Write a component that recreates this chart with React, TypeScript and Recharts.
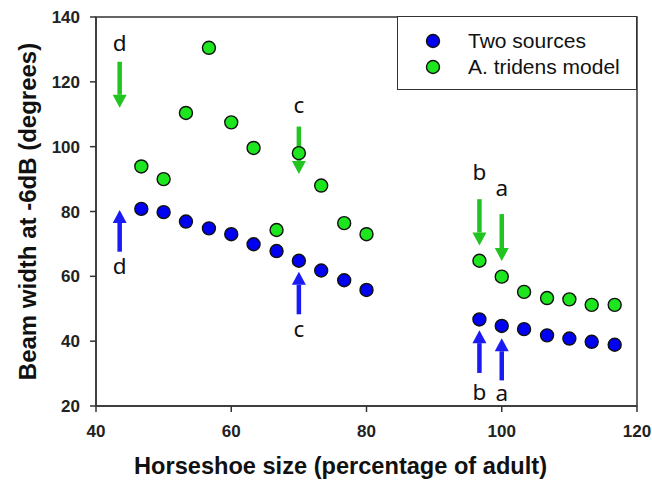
import { ReferenceArea, ReferenceLine, Scatter, ScatterChart, XAxis, YAxis } from 'recharts';

const youngSizes = [46.7, 50, 53.3, 56.7, 60, 63.3, 66.7, 70, 73.3, 76.7, 80];
const adultSizes = [96.7, 100, 103.3, 106.7, 110, 113.3, 116.7];
const twoSourcesYoung = [80.8, 79.8, 76.9, 74.8, 73.0, 69.9, 67.8, 64.8, 61.8, 58.8, 55.8];
const twoSourcesAdult = [46.7, 44.7, 43.7, 41.8, 40.8, 39.8, 38.9];
const tridensYoung = [93.9, 90.0, 110.4, 130.5, 107.5, 99.6, 74.3, 98.0, 88.0, 76.4, 73.0];
const tridensAdult = [64.8, 59.9, 55.2, 53.3, 52.9, 51.2, 51.2];

const xTicks = [40, 60, 80, 100, 120];
const yTicks = [20, 40, 60, 80, 100, 120, 140];

// arrows: x position, tail value, tip value
const greenArrows = [
  { x: 43.5, from: 126.2, to: 112 },
  { x: 70, from: 106.2, to: 91.6 },
  { x: 96.7, from: 83.8, to: 69.5 },
  { x: 100, from: 79.2, to: 64.7 },
];
const blueArrows = [
  { x: 43.5, from: 67.6, to: 80.5 },
  { x: 70, from: 48.3, to: 61.4 },
  { x: 96.7, from: 30.2, to: 43.4 },
  { x: 100, from: 27.9, to: 40.9 },
];
const letterLabels = [
  { x: 43.5, y: 132, text: 'd' },
  { x: 70, y: 113, text: 'c' },
  { x: 96.7, y: 92.3, text: 'b' },
  { x: 100, y: 87.3, text: 'a' },
  { x: 43.5, y: 63.2, text: 'd' },
  { x: 70, y: 44, text: 'c' },
  { x: 96.7, y: 24.6, text: 'b' },
  { x: 100, y: 24.3, text: 'a' },
];

const sizes = [...youngSizes, ...adultSizes];
const twoSources = [...twoSourcesYoung, ...twoSourcesAdult].map((v, i) => ({ x: sizes[i], y: v }));
const tridens = [...tridensYoung, ...tridensAdult].map((v, i) => ({ x: sizes[i], y: v }));

const BLUE = '#0000f2';
const GREEN = '#1ee61e';
const BLUE_ARROW = '#1a1af5';
const GREEN_ARROW = '#22c422';
const AXIS = '#333';
const FONT = '"Liberation Sans", Arial, sans-serif';

const dot = (fill: string) => (p: any) => (
  <circle cx={p.cx} cy={p.cy} r={6.5} fill={fill} stroke="#111" strokeWidth={1.4}/>
);

const arrow = (color: string) => (p: any) => {
  const { x1, y1, x2, y2 } = p;
  const dir = y2 > y1 ? 1 : -1;
  const head = 13;
  const half = 7;
  return (
    <g>
      <line x1={x1} y1={y1} x2={x2} y2={y2 - dir * head} stroke={color} strokeWidth={4.5}/>
      <polygon points={`${x2},${y2} ${x2 - half},${y2 - dir * head} ${x2 + half},${y2 - dir * head}`} fill={color}/>
    </g>
  );
};

const letter = (p: any) => (
  <text x={p.cx} y={p.cy} textAnchor="middle" dominantBaseline="central" fontSize={22.5} fill="#111" fontFamily='"Noto Sans", "Open Sans", sans-serif'>
    {p.payload.text}
  </text>
);

export default function App() {
  return (
    <div style={{ position: 'absolute', left: 0, top: 0, width: 652, height: 483, background: '#fff', fontFamily: FONT }}>
      <ScatterChart width={652} height={483} margin={{ top: 17, right: 15, left: 0, bottom: 47 }}>
        <XAxis type="number" dataKey="x" domain={[40, 120]} ticks={xTicks} allowDataOverflow
          stroke={AXIS} strokeWidth={1.5} tickSize={6} tickMargin={13}
          tick={{ fontSize: 17, fontWeight: 'bold', fill: '#222', fontFamily: FONT }}
          label={{ content: (props: any) => {
            const vb = props.viewBox;
            return <text x={vb.x + vb.width / 2 - 26} y={474} textAnchor="middle" fontSize={23.6} fontWeight="bold" fill="#111" fontFamily={FONT}>Horseshoe size (percentage of adult)</text>;
          } }}/>
        <YAxis type="number" dataKey="y" domain={[20, 140]} ticks={yTicks} allowDataOverflow width={96}
          stroke={AXIS} strokeWidth={1.5} tickSize={6} tickMargin={10}
          tick={{ fontSize: 17, fontWeight: 'bold', fill: '#222', fontFamily: FONT }}
          label={{ content: (props: any) => {
            const vb = props.viewBox;
            const cy = vb.y + vb.height / 2;
            return <text x={27} y={cy} transform={`rotate(-90, 27, ${cy})`} textAnchor="middle" dominantBaseline="central" fontSize={24} fontWeight="bold" fill="#111" fontFamily={FONT}>Beam width at -6dB (degrees)</text>;
          } }}/>
        <ReferenceArea x1={40} x2={120} y1={20} y2={140} fill="none" stroke={AXIS} strokeWidth={1.5}/>
        {greenArrows.map((a, i) => (
          <ReferenceLine key={`g${i}`} segment={[{ x: a.x, y: a.from }, { x: a.x, y: a.to }]} shape={arrow(GREEN_ARROW)}/>
        ))}
        {blueArrows.map((a, i) => (
          <ReferenceLine key={`b${i}`} segment={[{ x: a.x, y: a.from }, { x: a.x, y: a.to }]} shape={arrow(BLUE_ARROW)}/>
        ))}
        <Scatter name="Two sources" data={twoSources} shape={dot(BLUE)} isAnimationActive={false}/>
        <Scatter name="A. tridens model" data={tridens} shape={dot(GREEN)} isAnimationActive={false}/>
        <Scatter name="labels" data={letterLabels} shape={letter} isAnimationActive={false}/>
      </ScatterChart>
      <div style={{ position: 'absolute', left: 397, top: 16, width: 240, height: 74, border: `1.5px solid ${AXIS}`, boxSizing: 'border-box', background: '#fff' }}>
        {[{ name: 'Two sources', color: BLUE }, { name: 'A. tridens model', color: GREEN }].map((item, i) => (
          <div key={item.name} style={{ position: 'absolute', left: 0, top: 12 + i * 26, height: 24, display: 'flex', alignItems: 'center', whiteSpace: 'nowrap' }}>
            <svg width={70} height={24}>
              <circle cx={35} cy={12} r={6.5} fill={item.color} stroke="#111" strokeWidth={1.4}/>
            </svg>
            <span style={{ fontSize: 21, color: '#111', fontFamily: FONT }}>{item.name}</span>
          </div>
        ))}
      </div>
    </div>
  );
}
